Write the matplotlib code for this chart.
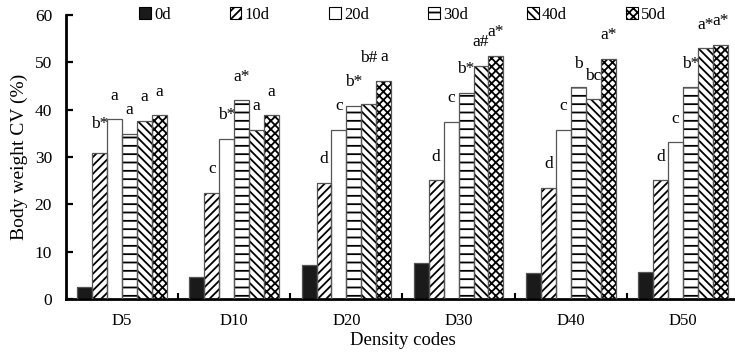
import matplotlib
matplotlib.use("Agg")
import matplotlib.pyplot as plt
from matplotlib.patches import Patch
import numpy as np

plt.rcParams['font.family'] = ['Liberation Serif', 'DejaVu Serif']
plt.rcParams['hatch.linewidth'] = 1.3

# Data
groups = ["D5", "D10", "D20", "D30", "D40", "D50"]
days = ["0d", "10d", "20d", "30d", "40d", "50d"]
cv = {
    "0d":  [2.5, 4.7, 7.2, 7.6, 5.4, 5.8],
    "10d": [30.9, 22.5, 24.5, 25.1, 23.5, 25.1],
    "20d": [38.0, 33.8, 35.8, 37.5, 35.8, 33.1],
    "30d": [34.9, 42.0, 40.8, 43.6, 44.7, 44.7],
    "40d": [37.7, 35.8, 41.1, 49.3, 42.2, 53.0],
    "50d": [38.8, 38.8, 46.1, 51.4, 50.7, 53.7],
}
sig = {
    "10d": ["b*", "c", "d", "d", "d", "d"],
    "20d": ["a", "b*", "c", "c", "c", "c"],
    "30d": ["a", "a*", "b*", "b*", "b", "b*"],
    "40d": ["a", "a", "b#", "a#", "bc", "a*"],
    "50d": ["a", "a", "a", "a*", "a*", "a*"],
}

# Styling
fills = {"0d": "#1a1a1a", "10d": "white", "20d": "white",
         "30d": "white", "40d": "white", "50d": "white"}
hatches = {"0d": None, "10d": "////", "20d": None,
           "30d": "--", "40d": "\\\\\\\\", "50d": "xxxx"}
label_lift = {("10d", 0): 1.0, ("40d", 2): 4.8}

fig = plt.figure(figsize=(7.35, 3.55), dpi=100)
ax = fig.add_axes([66 / 735, 56 / 355, 673 / 735, 284 / 355])

x = np.arange(len(groups))
w = 0.8 / len(days)
for j, d in enumerate(days):
    pos = x + (j - (len(days) - 1) / 2) * w
    ax.bar(pos, cv[d], width=w, color=fills[d], hatch=hatches[d],
           edgecolor="black", linewidth=0, zorder=2)
    ax.bar(pos, cv[d], width=w, fill=False, edgecolor="#555555",
           linewidth=0.9, zorder=3)
    if d in sig:
        for i, (p, v, s) in enumerate(zip(pos, cv[d], sig[d])):
            ax.text(p, v + 3.3 + label_lift.get((d, i), 0), s,
                    ha="center", va="bottom", fontsize=12.5)

ax.set_xlim(-0.5, len(groups) - 0.5)
ax.set_ylim(0, 60)
ax.set_yticks(np.arange(0, 61, 10))
ax.set_xticks(x)
ax.set_xticklabels(groups)
ax.set_xticks(x[:-1] + 0.5, minor=True)
ax.tick_params(axis="x", which="major", length=0, pad=10, labelsize=12)
ax.tick_params(axis="x", which="minor", length=4, width=1.5, direction="in")
ax.tick_params(axis="y", direction="in", length=5, width=1.6, pad=10,
               labelsize=12.5)
for side in ("top", "right"):
    ax.spines[side].set_visible(False)
for side in ("left", "bottom"):
    ax.spines[side].set_linewidth(2)

ax.set_xlabel("Density codes", fontsize=13.5, labelpad=2)
ax.set_ylabel("Body weight CV (%)", fontsize=14, labelpad=5)

handles = [Patch(facecolor=fills[d], hatch=hatches[d], edgecolor="black",
                 linewidth=0.8) for d in days]
ax.legend(handles, days, loc="center", bbox_to_anchor=(0.5, 1.0),
          ncol=6, frameon=False, fontsize=12, handlelength=0.7,
          handleheight=0.7, handletextpad=0.2, columnspacing=3.55)

fig.savefig("out.png", dpi=100)
